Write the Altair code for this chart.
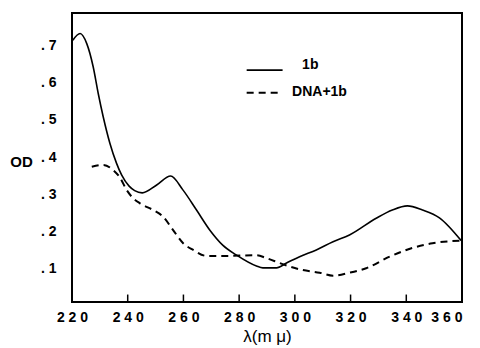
import altair as alt
import pandas as pd

# Solid curve: 1b
x_1b = [220.3, 222.9, 225.3, 227.6, 229.4, 231.2, 233.6, 236.0, 237.8, 240.5, 242.5, 245.2,
        250.4, 255.4, 259.8, 264.7, 269.5, 274.1, 279.1, 286.2, 288.5, 293.4, 297.0, 301.7,
        307.7, 313.7, 319.6, 329.2, 335.0, 340.4, 345.8, 351.9, 359.7]
y_1b = [0.713, 0.731, 0.704, 0.642, 0.571, 0.508, 0.437, 0.383, 0.352, 0.322, 0.310, 0.304,
        0.325, 0.349, 0.312, 0.258, 0.204, 0.164, 0.137, 0.108, 0.103, 0.103, 0.116, 0.133,
        0.151, 0.173, 0.191, 0.236, 0.258, 0.269, 0.258, 0.237, 0.176]

# Dashed curve: DNA + 1b
x_dna = [227.1, 231.2, 234.8, 237.2, 239.6, 241.9, 244.4, 249.1, 252.7, 256.3, 259.9, 263.5,
         268.3, 275.4, 286.2, 289.8, 295.6, 302.9, 308.9, 313.7, 319.6, 325.6, 334.0, 340.0,
         349.4, 359.7]
y_dna = [0.374, 0.379, 0.365, 0.345, 0.312, 0.290, 0.276, 0.258, 0.240, 0.204, 0.169, 0.151,
         0.135, 0.135, 0.137, 0.129, 0.113, 0.097, 0.090, 0.082, 0.090, 0.102, 0.133, 0.151,
         0.169, 0.176]

x_ticks = [220, 240, 260, 280, 300, 320, 340, 360]
y_ticks = [0.1, 0.2, 0.3, 0.4, 0.5, 0.6, 0.7]
inner_ticks = [240, 260, 280, 300, 320, 340]

legend_labels = ["1b", "DNA+1b"]
legend_x1 = [282.7, 282.7]
legend_x2 = [295.6, 295.6]
legend_y = [0.633, 0.572]
legend_text_x = [302.6, 299.0]
legend_text_y = [0.646, 0.575]
legend_dash = [[1, 0], [7, 5]]

Y_MIN, Y_MAX = 0.0115, 0.786
FONT = "Liberation Sans"

df_1b = pd.DataFrame({"x": x_1b, "y": y_1b})
df_dna = pd.DataFrame({"x": x_dna, "y": y_dna})
df_ticks = pd.DataFrame({"x": inner_ticks, "y0": [Y_MIN] * len(inner_ticks),
                         "y1": [Y_MIN + 0.02] * len(inner_ticks)})

xs = alt.Scale(domain=[220, 360], nice=False, zero=False)
ys = alt.Scale(domain=[Y_MIN, Y_MAX], nice=False, zero=False)

x_axis = alt.Axis(values=x_ticks, title="λ(m μ)", grid=False, ticks=False, domain=False,
                  labelExpr="join(split(datum.label, ''), ' ')",
                  labelAlign=alt.ExprRef(expr="datum.value >= 360 ? 'right' : 'center'"),
                  labelOverlap=False,
                  labelFont=FONT, labelFontWeight="bold", labelFontSize=14, labelColor="black",
                  labelPadding=8, labelFlush=False,
                  titleFont=FONT, titleFontSize=17, titleFontWeight="normal", titleColor="black",
                  titlePadding=4)
y_axis = alt.Axis(values=y_ticks, title="OD", grid=False, ticks=False, domain=False,
                  labelExpr="'. ' + format(datum.value * 10, 'd')",
                  labelOverlap=False,
                  labelFont=FONT, labelFontWeight="bold", labelFontSize=14, labelColor="black",
                  labelPadding=16,
                  titleFont=FONT, titleFontSize=15, titleFontWeight="bold", titleColor="black",
                  titleAngle=0, titleX=-51, titleY=148, titleAlign="center", titleBaseline="middle")

solid = alt.Chart(df_1b).mark_line(color="black", strokeWidth=1.6, interpolate="monotone").encode(
    x=alt.X("x:Q", scale=xs, axis=x_axis),
    y=alt.Y("y:Q", scale=ys, axis=y_axis),
)
dashed = alt.Chart(df_dna).mark_line(color="black", strokeWidth=2, strokeDash=[7, 5],
                                     interpolate="monotone").encode(
    x=alt.X("x:Q", scale=xs),
    y=alt.Y("y:Q", scale=ys),
)
ticks = alt.Chart(df_ticks).mark_rule(color="black", strokeWidth=1.5).encode(
    x=alt.X("x:Q", scale=xs), y=alt.Y("y0:Q", scale=ys), y2="y1:Q"
)

leg_solid = alt.Chart(pd.DataFrame({"x": [legend_x1[0]], "x2": [legend_x2[0]], "y": [legend_y[0]]})).mark_rule(
    color="black", strokeWidth=1.6).encode(x=alt.X("x:Q", scale=xs), x2="x2:Q", y=alt.Y("y:Q", scale=ys))
leg_dash = alt.Chart(pd.DataFrame({"x": [legend_x1[1]], "x2": [legend_x2[1]], "y": [legend_y[1]]})).mark_rule(
    color="black", strokeWidth=2, strokeDash=legend_dash[1]).encode(
    x=alt.X("x:Q", scale=xs), x2="x2:Q", y=alt.Y("y:Q", scale=ys))
leg_text = alt.Chart(pd.DataFrame({"x": legend_text_x, "y": legend_text_y, "t": legend_labels})).mark_text(
    align="left", baseline="middle", font=FONT, fontSize=14, fontWeight="bold", color="black").encode(
    x=alt.X("x:Q", scale=xs), y=alt.Y("y:Q", scale=ys), text="t:N")

chart = alt.layer(solid, dashed, ticks, leg_solid, leg_dash, leg_text).properties(
    width=390, height=289,
    autosize=alt.AutoSizeParams(type="none"),
    padding={"left": 64, "top": 5, "right": 10, "bottom": 44},
    background="white",
).configure_view(stroke="black", strokeWidth=2)

chart.save("out.html", embed_options={"renderer": "svg", "actions": False})
